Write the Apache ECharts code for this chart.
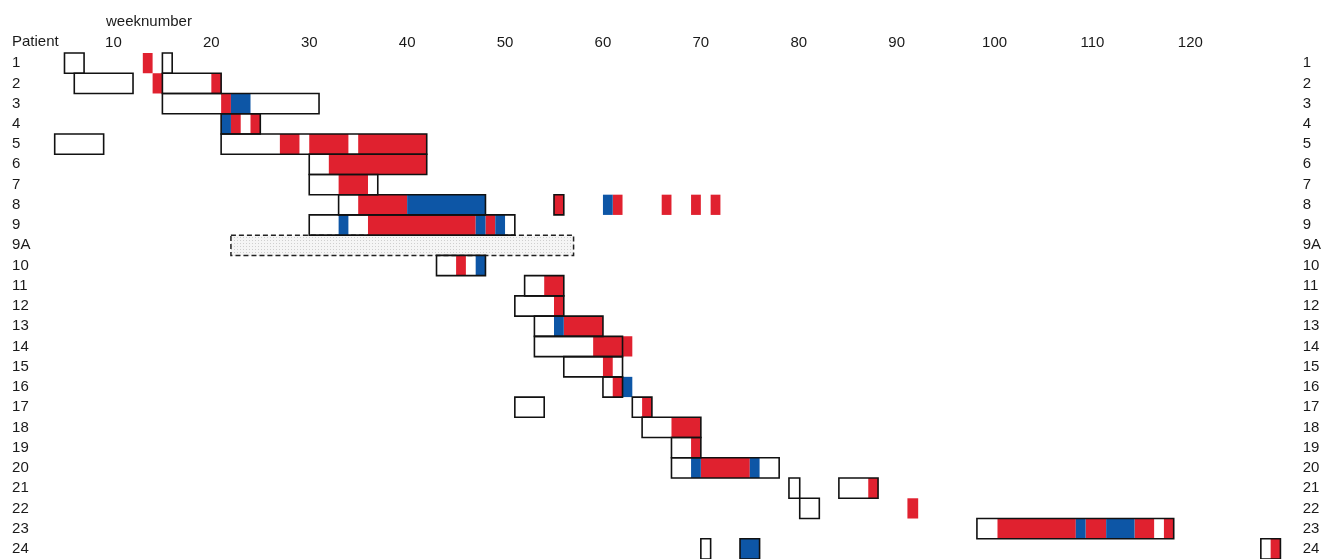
<!DOCTYPE html>
<html>
<head>
<meta charset="utf-8">
<script src="https://cdn.jsdelivr.net/npm/echarts@6/dist/echarts.min.js"></script>
<style>
  html, body { margin: 0; padding: 0; background: #ffffff; }
  #chart { width: 1324px; height: 559px; }
</style>
</head>
<body>
<div id="chart"></div>
<script>
// Patient rows (top to bottom)
const rows = ['1','2','3','4','5','6','7','8','9','9A','10','11','12','13','14','15','16','17','18','19','20','21','22','23','24'];

// Week tick labels
const weekTicks = [10,20,30,40,50,60,70,80,90,100,110,120];

// Outlined periods: [patient, startWeek, endWeek]
const stays = [
  ['1',5,7],['1',15,16],
  ['2',6,12],['2',15,21],
  ['3',15,31],
  ['4',21,25],
  ['5',4,9],['5',21,42],
  ['6',30,42],
  ['7',30,37],
  ['8',33,48],['8',55,56],
  ['9',30,51],
  ['10',43,48],
  ['11',52,56],
  ['12',51,56],
  ['13',53,60],
  ['14',53,62],
  ['15',56,62],
  ['16',60,62],
  ['17',51,54],['17',63,65],
  ['18',64,70],
  ['19',67,70],
  ['20',67,78],
  ['21',79,80.1],['21',84.1,88.1],
  ['22',80.1,82.1],
  ['23',98.2,118.3],
  ['24',70,71],['24',74,76],['24',127.2,129.2]
];

// Red periods
const redPeriods = [
  ['1',13,14],
  ['2',14,15],['2',20,21],
  ['3',21,22],
  ['4',22,23],['4',24,25],
  ['5',27,29],['5',30,34],['5',35,42],
  ['6',32,42],
  ['7',33,36],
  ['8',35,40],['8',55,56],['8',61,62],['8',66,67],['8',69,70],['8',71,72],
  ['9',36,47],['9',48,49],
  ['10',45,46],
  ['11',54,56],
  ['12',55,56],
  ['13',56,60],
  ['14',59,63],
  ['15',60,61],
  ['16',61,62],
  ['17',64,65],
  ['18',67,70],
  ['19',69,70],
  ['20',70,75],
  ['21',87.1,88.1],
  ['22',91.1,92.2],
  ['23',100.3,108.3],['23',109.3,111.4],['23',114.3,116.3],['23',117.3,118.3],
  ['24',128.2,129.2]
];

// Blue periods
const bluePeriods = [
  ['3',22,24],
  ['4',21,22],
  ['8',40,48],['8',60,61],
  ['9',33,34],['9',47,48],['9',49,50],
  ['10',47,48],
  ['13',55,56],
  ['16',62,63],
  ['20',69,70],['20',75,76],
  ['23',108.3,109.3],['23',111.4,114.3],
  ['24',74,76]
];

// Dotted period
const dottedPeriods = [
  ['9A',22,57]
];

const FONT = "'Liberation Sans', Arial, sans-serif";
const FS = 15;
const RED = '#e0212f';
const BLUE = '#0d56a6';

// stipple pattern for the dotted period
const pat = document.createElement('canvas');
pat.width = 3; pat.height = 3;
const pctx = pat.getContext('2d');
pctx.fillStyle = '#f5f5f5'; pctx.fillRect(0,0,3,3);
pctx.fillStyle = '#cfcfcf'; pctx.fillRect(0,0,1,1);

function makeRender(styleFn) {
  return function (params, api) {
    const cat = api.value(0);
    const p0 = api.coord([api.value(1), cat]);
    const p1 = api.coord([api.value(2), cat]);
    const h = api.size([0, 1])[1];
    return {
      type: 'rect',
      shape: { x: p0[0], y: p0[1] - h / 2, width: p1[0] - p0[0], height: h },
      style: styleFn()
    };
  };
}

function customSeries(name, data, styleFn, z) {
  return {
    type: 'custom',
    name: name,
    xAxisIndex: 0,
    yAxisIndex: 0,
    renderItem: makeRender(styleFn),
    encode: { x: [1, 2], y: 0 },
    data: data,
    z: z,
    silent: true
  };
}

const chart = echarts.init(document.getElementById('chart'), null, { renderer: 'canvas' });

const option = {
  animation: false,
  backgroundColor: '#ffffff',
  grid: { left: 15.54, right: 32.38, top: 53, bottom: -1.5, containLabel: false },
  xAxis: {
    type: 'value',
    position: 'top',
    min: 0,
    max: 130,
    interval: 10,
    axisLine: { show: false },
    axisTick: { show: false },
    splitLine: { show: false },
    axisLabel: {
      margin: 3,
      fontSize: FS,
      fontFamily: FONT,
      color: '#1a1a1a',
      formatter: function (v) { return weekTicks.indexOf(v) >= 0 ? String(v) : ''; }
    }
  },
  yAxis: [
    {
      type: 'category',
      data: rows,
      inverse: true,
      position: 'left',
      axisLine: { show: false },
      axisTick: { show: false },
      splitLine: { show: false },
      axisLabel: { align: 'left', margin: 3.5, fontSize: FS, fontFamily: FONT, color: '#1a1a1a', interval: 0 }
    },
    {
      type: 'category',
      data: rows,
      inverse: true,
      position: 'right',
      axisLine: { show: false },
      axisTick: { show: false },
      splitLine: { show: false },
      axisLabel: { align: 'left', margin: 14.4, fontSize: FS, fontFamily: FONT, color: '#1a1a1a', interval: 0 }
    }
  ],
  graphic: [
    { type: 'text', left: 12, top: 34, style: { text: 'Patient', font: FS + 'px ' + FONT, fill: '#1a1a1a' } },
    { type: 'text', left: 106, top: 14, style: { text: 'weeknumber', font: FS + 'px ' + FONT, fill: '#1a1a1a' } }
  ],
  series: [
    customSeries('dotted', dottedPeriods, function () {
      return { fill: { image: pat, repeat: 'repeat' }, stroke: '#222', lineWidth: 1.5, lineDash: [5, 3] };
    }, 1),
    customSeries('red', redPeriods, function () { return { fill: RED, stroke: null }; }, 2),
    customSeries('blue', bluePeriods, function () { return { fill: BLUE, stroke: null }; }, 3),
    customSeries('stays', stays, function () { return { fill: 'none', stroke: '#111', lineWidth: 1.6 }; }, 4)
  ]
};

chart.setOption(option);
</script>
</body>
</html>
